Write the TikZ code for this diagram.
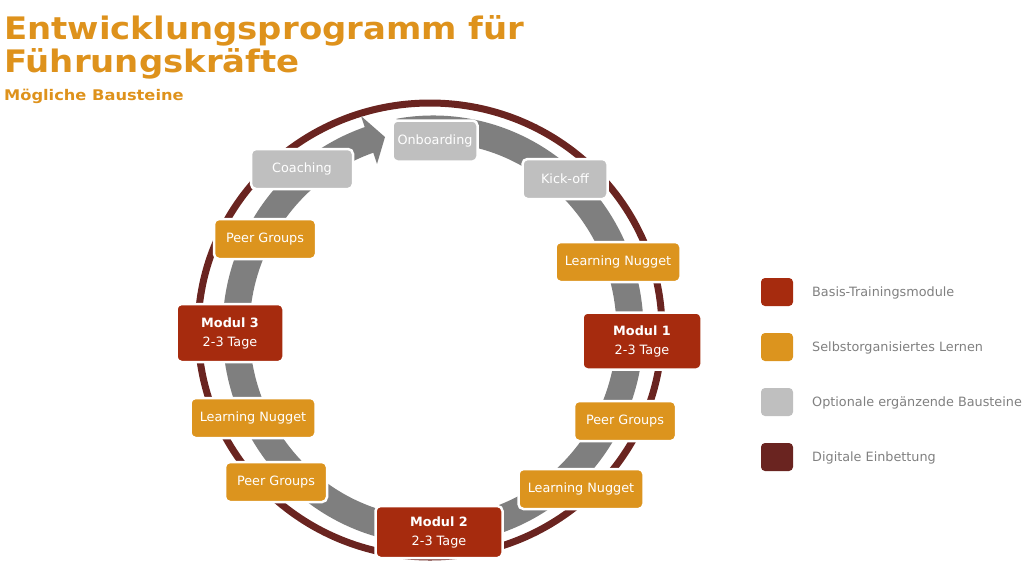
\documentclass[tikz,border=0pt]{standalone}
\usepackage{fontspec}
\setmainfont{DejaVu Sans}
\usetikzlibrary{calc}
\definecolor{ringred}{RGB}{106,36,32}
\definecolor{modred}{RGB}{166,43,14}
\definecolor{orng}{RGB}{220,148,30}
\definecolor{lgray}{RGB}{191,191,191}
\definecolor{dgray}{RGB}{127,127,127}
\definecolor{ttl}{RGB}{222,146,28}
\definecolor{legtxt}{RGB}{128,128,128}
\begin{document}
\begin{tikzpicture}[x=1pt,y=1pt,
  box/.style={draw=white, line width=2.5pt, rounded corners=5pt, text=white,
    font=\fontsize{12.8}{19}\selectfont, inner sep=0pt, align=center},
  modbox/.style={box, fill=modred},
  selfbox/.style={box, fill=orng},
  optbox/.style={box, fill=lgray},
  legsq/.style={rounded corners=4pt, minimum width=32pt, minimum height=28pt, inner sep=0pt},
  legtext/.style={anchor=west, text=legtxt, font=\fontsize{12.8}{15}\selectfont, inner sep=0pt},
  ringline/.style={draw=ringred, line width=7pt},
  band/.style={draw=dgray, line width=27pt},
  titletext/.style={anchor=base west, inner sep=0pt, text=ttl}
]
\useasboundingbox (0,0) rectangle (1030,-579);

% title
\node[titletext, font=\fontsize{31}{34}\bfseries] (t1) at (4,-39) {\scalebox{1.095}[1]{Entwicklungsprogramm für}};
\node[titletext, font=\fontsize{31}{34}\bfseries] (t2) at (4,-72) {\scalebox{1.095}[1]{Führungskräfte}};
\node[titletext, font=\fontsize{14.7}{17}\bfseries] (t3) at (4,-100) {\scalebox{1.105}[1]{Mögliche Bausteine}};

% digital ring
\coordinate (rc) at (430,-330);
\draw[ringline] (rc) ellipse[x radius=232, y radius=227];

% gray circular arrow
\coordinate (gc) at (433,-330);
\draw[band] ($(gc)+(100:197 and 201)$) arc[start angle=100, end angle=-251.6, x radius=197, y radius=201];
\coordinate (ahU) at (361,-116);
\coordinate (ahL) at (377,-164);
\coordinate (ahT) at (385,-137);
\fill[dgray] (ahU) -- (ahT) -- (ahL) -- cycle;

% boxes
\node[optbox, minimum width=85pt, minimum height=41pt] (onb) at (435,-141) {Onboarding};
\node[optbox, minimum width=85pt, minimum height=40pt] (kick) at (565,-179) {Kick-off};
\node[selfbox, minimum width=125pt, minimum height=40pt] (ln1) at (618,-262) {Learning Nugget};
\node[modbox, minimum width=119pt, minimum height=57pt] (m1) at (642,-341) {\textbf{Modul 1}\\2-3 Tage};
\node[selfbox, minimum width=102pt, minimum height=40pt] (pg1) at (625,-421) {Peer Groups};
\node[selfbox, minimum width=125pt, minimum height=40pt] (ln2) at (581,-489) {Learning Nugget};
\node[modbox, minimum width=127pt, minimum height=52pt] (m2) at (439,-532) {\textbf{Modul 2}\\2-3 Tage};
\node[selfbox, minimum width=102pt, minimum height=40pt] (pg2) at (276,-482) {Peer Groups};
\node[selfbox, minimum width=125pt, minimum height=40pt] (ln3) at (253,-418) {Learning Nugget};
\node[modbox, minimum width=107pt, minimum height=58pt] (m3) at (230,-333) {\textbf{Modul 3}\\2-3 Tage};
\node[selfbox, minimum width=102pt, minimum height=40pt] (pg3) at (265,-239) {Peer Groups};
\node[optbox, minimum width=102pt, minimum height=40pt] (coach) at (302,-169) {Coaching};

% legend
\node[legsq, fill=modred] (l1) at (777,-292) {};
\node[legsq, fill=orng] (l2) at (777,-347) {};
\node[legsq, fill=lgray] (l3) at (777,-402) {};
\node[legsq, fill=ringred] (l4) at (777,-457) {};
\node[legtext] (lt1) at (812,-293) {Basis-Trainingsmodule};
\node[legtext] (lt2) at (812,-348) {Selbstorganisiertes Lernen};
\node[legtext] (lt3) at (812,-403) {Optionale ergänzende Bausteine};
\node[legtext] (lt4) at (812,-458) {Digitale Einbettung};
\end{tikzpicture}
\end{document}
